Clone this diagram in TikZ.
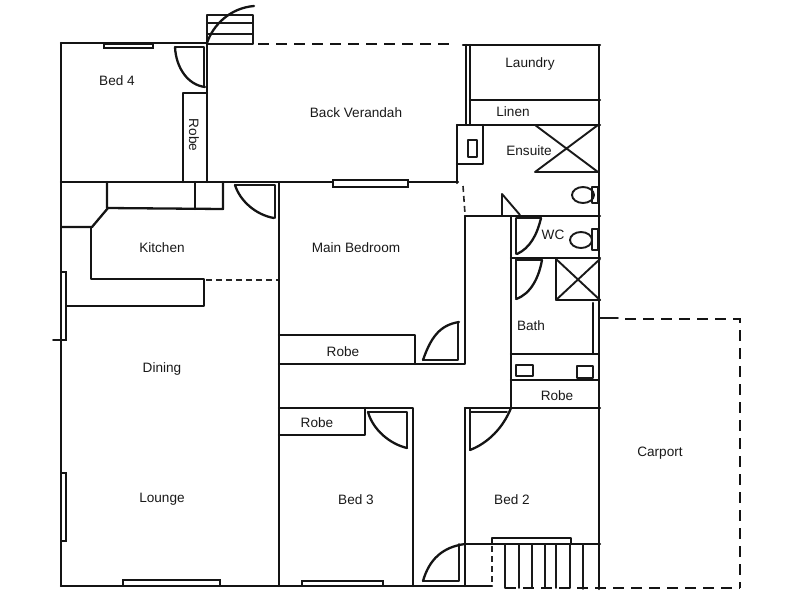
\documentclass[tikz,border=0pt]{standalone}
\usepackage{fontspec}
\setmainfont{Liberation Sans}
\tikzset{
  wall/.style={line width=2.3pt,draw=black!92,line cap=round,line join=round},
  thin wall/.style={line width=1.9pt,draw=black!90,line cap=round,line join=round},
  dashwall/.style={line width=2.3pt,draw=black!92,dash pattern=on 11pt off 7pt},
  shortdash/.style={line width=1.6pt,draw=black!85,dash pattern=on 6pt off 4pt},
  win/.style={line width=1.9pt,draw=black!92,fill=white},
  lab/.style={font=\fontsize{13.6}{15}\selectfont,text=black!90,inner sep=0pt}
}
\begin{document}
\begin{tikzpicture}[x=1pt,y=-1pt]
\useasboundingbox (0,0) rectangle (800,600);
% outer walls
\draw[wall] (61,43) -- (207,43);
\draw[wall] (61,43) -- (61,586);
\draw[wall] (61,586) -- (492,586);
\draw[wall] (599,45) -- (599,589);
\draw[wall] (463,45) -- (600,45);
\draw[dashwall] (258,44) -- (456,44);
% back stairs and door
\draw[thin wall] (207,44) -- (207,15) -- (253,15) -- (253,44) -- (207,44);
\draw[thin wall] (207,23) -- (253,23) (207,34) -- (253,34);
\draw[wall] (207,43) .. controls (213,25) and (230,8) .. (254,6);
% bed 4
\draw[win] (104,44) rectangle (153,48);
\draw[thin wall] (175,47) -- (204,47) -- (204,87);
\draw[wall] (175,47) .. controls (176,68) and (188,85) .. (205,87);
\draw[wall] (207,44) -- (207,182);
\draw[wall] (183,182) -- (183,93) -- (207,93);
\draw[wall] (61,182) -- (458,182);
% kitchen
\draw[wall] (107,182) -- (107,208) -- (223,209) -- (223,182);
\draw[wall] (195,182) -- (195,209);
\draw[wall] (62,227) -- (92,227) -- (108,208);
\draw[wall] (91,228) -- (91,279) -- (204,279) -- (204,306) -- (62,306);
\draw[shortdash] (206,280) -- (278,280);
\draw[win] (61,272) rectangle (66,340);
\draw[thin wall] (53,340) -- (60,340);
\draw[thin wall] (235,185) -- (275,185) -- (275,218);
\draw[wall] (235,185) .. controls (240,201) and (256,215) .. (274,218);
% main bedroom
\draw[wall] (279,182) -- (279,586);
\draw[win] (333,180) rectangle (408,187);
\draw[wall] (465,216) -- (465,364) -- (279,364);
\draw[wall] (279,335) -- (415,335) -- (415,364);
\draw[thin wall] (423,360) -- (458,360) -- (458,322);
\draw[wall] (423,360) .. controls (431,337) and (440,325) .. (459,322);
% bed 3
\draw[wall] (279,408) -- (413,408) -- (413,586);
\draw[wall] (279,435) -- (365,435) -- (365,408);
\draw[thin wall] (368,412) -- (407,412) -- (407,448);
\draw[wall] (368,412) .. controls (373,430) and (390,444) .. (407,448);
% bed 2
\draw[wall] (465,408) -- (465,586);
\draw[wall] (465,408) -- (511,408);
\draw[thin wall] (470,408) -- (470,450);
\draw[thin wall] (470,412) -- (507,412);
\draw[wall] (470,450) .. controls (488,443) and (503,428) .. (511,408);
% front door and porch
\draw[thin wall] (423,581) -- (459,581) -- (459,544);
\draw[wall] (423,581) .. controls (429,560) and (442,547) .. (465,544);
\draw[wall] (465,544) -- (600,544);
\draw[wall] (492,544) -- (492,538) -- (571,538) -- (571,544);
\draw[shortdash] (492,546) -- (492,586);
\draw[thin wall] (505,544) -- (505,588) (519,544) -- (519,588) (532,544) -- (532,588)
  (545,544) -- (545,588) (556,544) -- (556,588) (570,544) -- (570,588) (583,544) -- (583,589);
\draw[dashwall] (505,588) -- (740,588);
% laundry and linen
\draw[wall] (466,45) -- (466,124) (470,45) -- (470,124);
\draw[wall] (470,100) -- (600,100);
\draw[wall] (457,125) -- (600,125);
% ensuite
\draw[wall] (457,125) -- (457,183);
\draw[wall] (457,164) -- (483,164) -- (483,125);
\draw[thin wall] (468,140) rectangle (477,157);
\draw[shortdash] (463,186) -- (465,214);
\draw[thin wall] (535,125) -- (598,172) (598,125) -- (535,172) (535,172) -- (598,172);
\draw[thin wall] (583,195) ellipse (11pt and 8pt);
\draw[thin wall] (592,187) rectangle (598,203);
\draw[thin wall] (502,216) -- (502,194) -- (520,215);
% wc
\draw[wall] (465,216) -- (600,216);
\draw[wall] (511,216) -- (511,408);
\draw[thin wall] (516,218) -- (516,254) (516,218) -- (541,218);
\draw[wall] (541,218) .. controls (537,235) and (530,248) .. (517,254);
\draw[wall] (511,258) -- (600,258);
\draw[thin wall] (581,240) ellipse (11pt and 8pt);
\draw[thin wall] (592,229) rectangle (598,250);
% bath
\draw[thin wall] (516,259) -- (516,298) (516,260) -- (542,260);
\draw[wall] (542,260) .. controls (539,277) and (531,294) .. (516,299);
\draw[wall] (556,259) -- (556,300) -- (600,300);
\draw[thin wall] (556,300) -- (600,259) (556,259) -- (600,300);
\draw[wall] (593,303) -- (593,354);
\draw[wall] (511,354) -- (598,354);
\draw[wall] (511,380) -- (598,380);
\draw[wall] (511,408) -- (600,408);
\draw[thin wall] (516,365) rectangle (533,376);
\draw[thin wall] (577,366) rectangle (593,378);
% carport
\draw[thin wall] (600,318) -- (618,318);
\draw[dashwall] (625,319) -- (740,319) -- (740,588);
% lounge and bed 3 windows
\draw[win] (61,473) rectangle (66,541);
\draw[win] (123,580) rectangle (220,586);
\draw[win] (302,581) rectangle (383,586);
% labels
\node[lab] (bedfour) at (117,81) {Bed 4};
\node[lab,rotate=-90] (robea) at (194,135) {Robe};
\node[lab] (verandah) at (356,113) {Back Verandah};
\node[lab] (laundry) at (530,64) {Laundry};
\node[lab] (linen) at (513,112) {Linen};
\node[lab] (ensuite) at (529,151) {Ensuite};
\node[lab] (wc) at (553,235) {WC};
\node[lab] (kitchen) at (162,248) {Kitchen};
\node[lab] (mainbed) at (356,248) {Main Bedroom};
\node[lab] (bath) at (531,326) {Bath};
\node[lab] (robeb) at (343,352) {Robe};
\node[lab] (robec) at (317,423) {Robe};
\node[lab] (robed) at (557,396) {Robe};
\node[lab] (dining) at (162,369) {Dining};
\node[lab] (lounge) at (162,499) {Lounge};
\node[lab] (bedthree) at (356,500) {Bed 3};
\node[lab] (bedtwo) at (512,500) {Bed 2};
\node[lab] (carport) at (660,453) {Carport};
\end{tikzpicture}
\end{document}
